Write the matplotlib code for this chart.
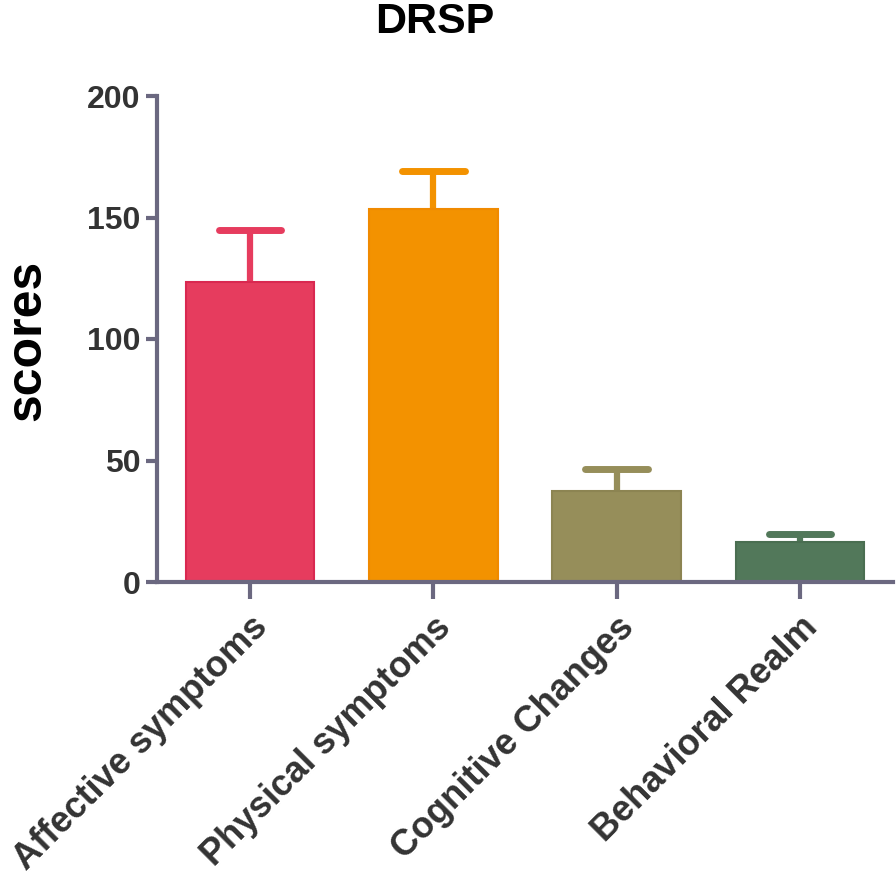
import matplotlib.pyplot as plt
import numpy as np

categories = ['Affective symptoms', 'Physical symptoms', 'Cognitive Changes', 'Behavioral Realm']
means = [123.5, 153.5, 37.3, 16.3]
errors = [21.3, 15.5, 9.3, 3.3]
colors = ['#E63C5E', '#F39200', '#968E5A', '#52785A']
edges = ['#D92850', '#F08A00', '#8C8452', '#4A6E51']

if __name__ == '__main__':
    plt.rcParams['font.family'] = ['Liberation Sans', 'DejaVu Sans']
    plt.rcParams['font.weight'] = 'bold'
    text_color = '#333333'
    axis_color = '#6B6880'

    fig = plt.figure(figsize=(8.96, 8.84), dpi=100)
    ax = fig.add_axes([157 / 896, 1 - 582 / 884, (893 - 157) / 896, (582 - 96) / 884])

    x = np.arange(len(categories))
    ax.bar(x, means, width=0.7, color=colors, edgecolor=edges, linewidth=1.5, zorder=2)
    for xi, m, e, c in zip(x, means, errors, colors):
        ax.vlines(xi, m - 2, m + e, color=c, linewidth=4.5, zorder=1)
        ax.hlines(m + e, xi - 0.17, xi + 0.17, color=c, linewidth=5,
                  capstyle='round', zorder=1)

    ax.set_xlim(-0.51, 3.51)
    ax.set_ylim(0, 200)
    ax.set_yticks([0, 50, 100, 150, 200])
    ax.set_xticks(x)
    ax.set_xticklabels(categories, rotation=45, ha='right', rotation_mode='anchor',
                       fontsize=26, color=text_color)
    ax.tick_params(axis='y', labelsize=23, labelcolor=text_color, length=8, width=3,
                   color=axis_color, pad=4)
    ax.tick_params(axis='x', length=12, width=3, color=axis_color, pad=8)

    for side in ['top', 'right']:
        ax.spines[side].set_visible(False)
    for side in ['left', 'bottom']:
        ax.spines[side].set_color(axis_color)
        ax.spines[side].set_linewidth(3)

    fig.text(27 / 896, 1 - 340 / 884, 'scores', fontsize=36, color='black',
             rotation=90, ha='center', va='center', fontweight='bold')
    fig.text(435 / 896, 1 - 22 / 884, 'DRSP', fontsize=31, color='black',
             ha='center', va='center', fontweight='bold')

    plt.savefig('out.png', dpi=100)
